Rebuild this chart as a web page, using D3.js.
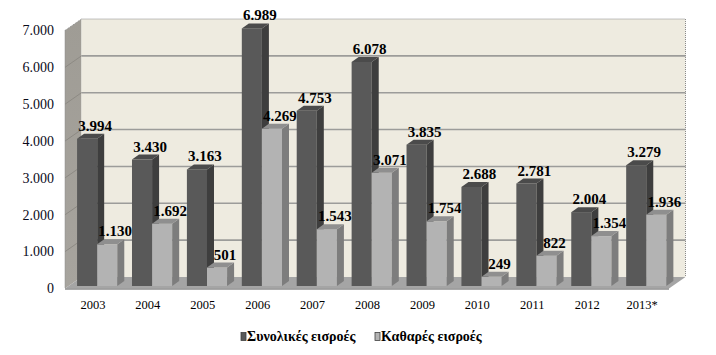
<!DOCTYPE html>
<html><head><meta charset="utf-8">
<script src="https://cdn.jsdelivr.net/npm/d3@7"></script>
<style>body{margin:0;background:#fff}svg{display:block}</style>
</head><body>
<svg id="c" width="716" height="355"></svg>
<script>
const categories = ["2003","2004","2005","2006","2007","2008","2009","2010","2011","2012","2013*"];
const totalInflows = [3994,3430,3163,6989,4753,6078,3835,2688,2781,2004,3279];
const netInflows = [1130,1692,501,4269,1543,3071,1754,249,822,1354,1936];
const seriesNames = ["Συνολικές εισροές","Καθαρές εισροές"];
const tickValues = [0,1000,2000,3000,4000,5000,6000,7000];

const svg = d3.select("#c");
const font = "Liberation Serif, Times New Roman, serif";
const fmt = v => d3.format(",")(v).replace(/,/g, ".");

// geometry
const wallDx = 16.5, wallDy = -11.5;
const x = d3.scaleBand().domain(categories).range([65, 669]);
const yF = d3.scaleLinear().domain([0,7000]).range([288.5, 30.5]);
const barShiftY = -2.5;
const bdx = 7, bdy = -5;

const xL = 65, xR = 669;
// side wall
const grad = svg.append("defs").append("linearGradient").attr("id","sw").attr("x1",0).attr("x2",0).attr("y1",0).attr("y2",1);
grad.append("stop").attr("offset","0%").attr("stop-color","#9f9c95");
grad.append("stop").attr("offset","100%").attr("stop-color","#a7a49e");
svg.append("polygon")
  .attr("points", [[xL,yF(7000)],[xL+wallDx,yF(7000)+wallDy],[xL+wallDx,yF(0)+wallDy],[xL,yF(0)]].join(" "))
  .attr("fill", "url(#sw)");
// back wall
svg.append("rect").attr("x", xL+wallDx).attr("y", yF(7000)+wallDy)
  .attr("width", xR-xL).attr("height", yF(0)-yF(7000))
  .attr("fill", "#eeebe0");
// gridlines
tickValues.filter(v => v>0 && v<7000).forEach(v => {
  const yb = yF(v)+wallDy;
  svg.append("line").attr("x1", xL+wallDx).attr("x2", xR+wallDx).attr("y1", yb).attr("y2", yb)
    .attr("stroke", "#9c9c9a").attr("stroke-width", 1.6);
  svg.append("line").attr("x1", xL).attr("x2", xL+wallDx).attr("y1", yF(v)).attr("y2", yb)
    .attr("stroke", "#8d8a84").attr("stroke-width", 1);
});
// dotted edges
const dotted = (x1,y1,x2,y2) => svg.append("line").attr("x1",x1).attr("y1",y1).attr("x2",x2).attr("y2",y2)
  .attr("stroke","#8a8a8a").attr("stroke-width",1).attr("stroke-dasharray","1,1");
dotted(xL+wallDx, yF(7000)+wallDy, xR+wallDx, yF(7000)+wallDy);
dotted(xR+wallDx, yF(7000)+wallDy, xR+wallDx, yF(0)+wallDy);
dotted(xL, yF(7000), xL, yF(0));
dotted(xL, yF(7000), xL+wallDx, yF(7000)+wallDy);
// floor
svg.append("polygon")
  .attr("points", [[xL,yF(0)],[xL+wallDx,yF(0)+wallDy],[xR+wallDx,yF(0)+wallDy],[xR,yF(0)]].join(" "))
  .attr("fill", "#a5a5a5");
svg.append("line").attr("x1", xL).attr("x2", xR).attr("y1", yF(0)+0.5).attr("y2", yF(0)+0.5)
  .attr("stroke", "#8c8c8c").attr("stroke-width", 1.5);

// y tick labels
svg.append("g").selectAll("text").data(tickValues).join("text")
  .attr("x", 54).attr("y", d => yF(d)+1.5).attr("text-anchor","end").attr("dominant-baseline","middle")
  .attr("font-family", font).attr("font-size", 14).attr("fill", "#0a0a1a")
  .text(d => fmt(d));

// x labels
svg.append("g").selectAll("text").data(categories).join("text")
  .attr("x", d => x(d)+x.bandwidth()/2+0.5).attr("y", 309).attr("text-anchor","middle")
  .attr("font-family", font).attr("font-size", 12.5).attr("fill", "#000")
  .text(d => d);

const styles = [
  {front:"#595959", side:"#3e3e3e", top:"#4b4b4b"},
  {front:"#b3b3b3", side:"#7d7d7d", top:"#8f8f8f"}
];
const bw = x.bandwidth()*0.366;

function bar(g, x0, v, st) {
  const y0 = yF(0)+barShiftY, yt = yF(v)+barShiftY;
  g.append("rect").attr("x", x0).attr("y", yt).attr("width", bw).attr("height", y0-yt).attr("fill", st.front);
  g.append("polygon").attr("points", [[x0+bw,yt],[x0+bw+bdx,yt+bdy],[x0+bw+bdx,y0+bdy],[x0+bw,y0]].join(" ")).attr("fill", st.side);
  g.append("polygon").attr("points", [[x0,yt],[x0+bdx,yt+bdy],[x0+bw+bdx,yt+bdy],[x0+bw,yt]].join(" ")).attr("fill", st.top);
  g.append("text").attr("x", x0+bw/2+8).attr("y", yt+bdy-3).attr("text-anchor","middle")
    .attr("font-family", font).attr("font-size", 15).attr("font-weight","bold").attr("fill","#000")
    .text(fmt(v));
}
const barsG = svg.append("g");
categories.forEach((c,i) => {
  const x0 = x(c) + x.bandwidth()*0.22;
  bar(barsG, x0, totalInflows[i], styles[0]);
  bar(barsG, x0+bw, netInflows[i], styles[1]);
});

// legend
const legend = svg.append("g");
const legX = [241, 375];
seriesNames.forEach((n,i) => {
  legend.append("rect").attr("x", legX[i]).attr("y", 332.5).attr("width", 5).attr("height", 8)
    .attr("fill", styles[i].front).attr("stroke", "#404040").attr("stroke-width", 0.8);
  legend.append("text").attr("x", legX[i]+6).attr("y", 341)
    .attr("font-family", font).attr("font-size", 14).attr("font-weight","bold").attr("fill","#000")
    .text(n);
});
</script>
</body></html>
